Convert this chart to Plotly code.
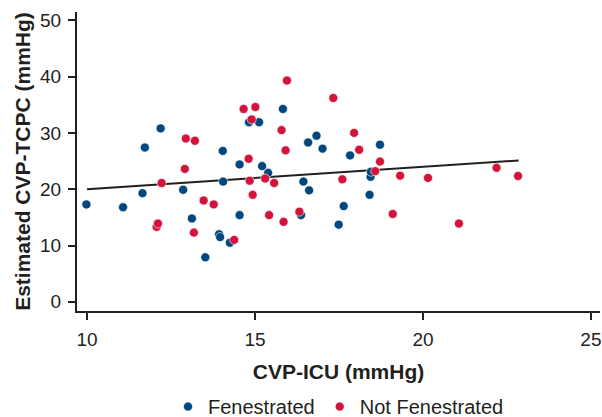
import plotly.graph_objects as go

# Fenestrated (blue)
fen_x = [9.98, 11.07, 11.65, 11.72, 12.19, 12.86, 13.12, 13.52, 13.93, 13.96,
         14.04, 14.05, 14.25, 14.54, 14.54, 14.82, 15.12, 15.21, 15.39, 15.83,
         16.37, 16.44, 16.58, 16.61, 16.83, 17.01, 17.49, 17.64, 17.83, 18.41,
         18.44, 18.45, 18.72]
fen_y = [17.3, 16.8, 19.3, 27.4, 30.8, 19.9, 14.8, 7.9, 12.0, 11.5,
         26.8, 21.35, 10.5, 24.4, 15.4, 31.9, 31.9, 24.1, 22.9, 34.25,
         15.4, 21.35, 28.3, 19.8, 29.5, 27.2, 13.7, 17.0, 26.0, 19.0,
         22.2, 23.1, 27.9]

# Not Fenestrated (red)
nf_x = [12.07, 12.11, 12.22, 12.91, 12.94, 13.18, 13.21, 13.47, 13.77, 14.38,
        14.66, 14.81, 14.84, 14.90, 14.93, 15.01, 15.30, 15.42, 15.57, 15.79,
        15.85, 15.91, 15.95, 16.32, 17.33, 17.60, 17.95, 18.10, 18.58, 18.72,
        19.10, 19.32, 20.15, 21.07, 22.19, 22.83]
nf_y = [13.3, 13.9, 21.1, 23.6, 29.0, 12.3, 28.6, 18.0, 17.3, 11.0,
        34.25, 25.4, 21.5, 32.4, 19.0, 34.6, 21.9, 15.4, 21.1, 30.5,
        14.2, 26.9, 39.3, 16.0, 36.2, 21.75, 30.0, 27.0, 23.2, 24.9,
        15.6, 22.4, 22.0, 13.9, 23.8, 22.35]

# Regression line endpoints
trend_x = [10.0, 22.85]
trend_y = [20.0, 25.1]

x_ticks = [10, 15, 20, 25]
y_ticks = [0, 10, 20, 30, 40, 50]

BLUE = "#00467F"
RED = "#D2143C"
INK = "#231F20"
FONT = "Liberation Sans, Arial, sans-serif"

fig = go.Figure()
fig.add_trace(go.Scatter(x=trend_x, y=trend_y, mode="lines",
                         line=dict(color=INK, width=2), showlegend=False,
                         hoverinfo="skip"))
fig.add_trace(go.Scatter(x=fen_x, y=fen_y, mode="markers", name="Fenestrated",
                         marker=dict(color=BLUE, size=9,
                                     line=dict(color="white", width=0.6))))
fig.add_trace(go.Scatter(x=nf_x, y=nf_y, mode="markers", name="Not Fenestrated",
                         marker=dict(color=RED, size=9,
                                     line=dict(color="white", width=0.6))))

fig.update_layout(
    width=602, height=417,
    margin=dict(l=77, r=2, t=12, b=106, autoexpand=False),
    plot_bgcolor="white", paper_bgcolor="white",
    font=dict(family=FONT, color=INK, size=19),
    showlegend=True,
    legend=dict(orientation="h", x=0.5, xanchor="center",
                yref="container", y=0.025, yanchor="middle",
                font=dict(size=20, color=INK),
                itemwidth=30, tracegroupgap=0),
    xaxis=dict(range=[9.70, 25.27], tickvals=x_ticks, showgrid=False,
               zeroline=False, showline=True, linecolor=INK, linewidth=2,
               ticks="outside", ticklen=7, tickwidth=2, tickcolor=INK,
               ticklabelstandoff=3,
               tickfont=dict(size=19, color=INK),
               title=dict(text="<b>CVP-ICU (mmHg)</b>",
                          font=dict(size=21, color=INK), standoff=16)),
    yaxis=dict(range=[-1.63, 51.47], tickvals=y_ticks, showgrid=False,
               zeroline=False, showline=True, linecolor=INK, linewidth=2,
               ticks="outside", ticklen=7, tickwidth=2, tickcolor=INK,
               ticklabelstandoff=3,
               tickfont=dict(size=19, color=INK),
               title=dict(text="<b>Estimated CVP-TCPC (mmHg)</b>",
                          font=dict(size=21, color=INK), standoff=4)),
)

fig.write_html("out.html")
